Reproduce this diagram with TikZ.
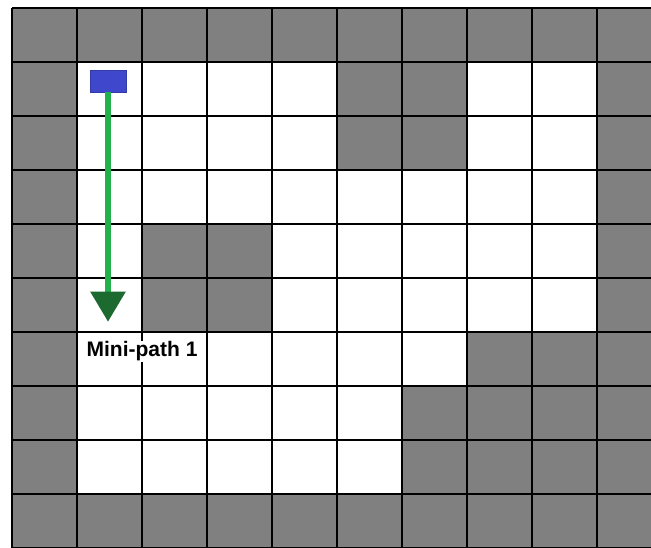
\documentclass[tikz,border=0pt]{standalone}
\usepackage{fontspec}
\setmainfont{Liberation Sans}
\usepackage{xcolor}
\definecolor{wall}{HTML}{808080}
\definecolor{startblue}{HTML}{3F48CC}
\definecolor{pathgreen}{HTML}{22B14C}
\definecolor{headgreen}{HTML}{1D6A30}
\usetikzlibrary{arrows.meta,positioning}
\tikzset{
  grid line/.style={draw=black,line width=1.6pt},
  cell/.style={fill=white},
  start/.style={draw=startblue!80!black,line width=0.6pt,fill=startblue,
                minimum width=36pt,minimum height=22pt,inner sep=0pt},
  mini/.style={draw=pathgreen,line width=5.5pt,
               -{Triangle[length=30pt,width=34pt,color=headgreen,fill=headgreen]}},
  lbl/.style={font=\bfseries\fontsize{21}{25}\selectfont,text=black,fill=white,inner sep=1pt},
}
\begin{document}
\begin{tikzpicture}[x=65pt,y=-54pt]
  \useasboundingbox[fill=white] (-12pt,8pt) rectangle (639pt,-540pt);
  % walls, then open cells
  \fill[wall] (0,0) rectangle (639pt,-540pt);
  \foreach \a/\b/\c/\d in {1/1/5/3, 7/1/9/3, 1/3/9/4, 1/4/2/6, 4/4/9/6, 1/6/7/7, 1/7/6/9}
    \fill[cell] (\a,\b) rectangle (\c,\d);
  % grid
  \foreach \i in {0,...,9}
    \draw[grid line] (\i,0) -- (\i,10);
  \foreach \j in {0,...,10}
    \draw[grid line] (0,\j) -- (639pt,-54pt*\j);
  % start and mini-path
  \node[start] (s) at (1.477,1.35) {};
  \coordinate (e) at (1.477,5.81);
  \draw[mini] (s.south) -- (e);
  \node[lbl,anchor=base west] (m) at (1.13,6.46) {Mini-path 1};
\end{tikzpicture}
\end{document}
